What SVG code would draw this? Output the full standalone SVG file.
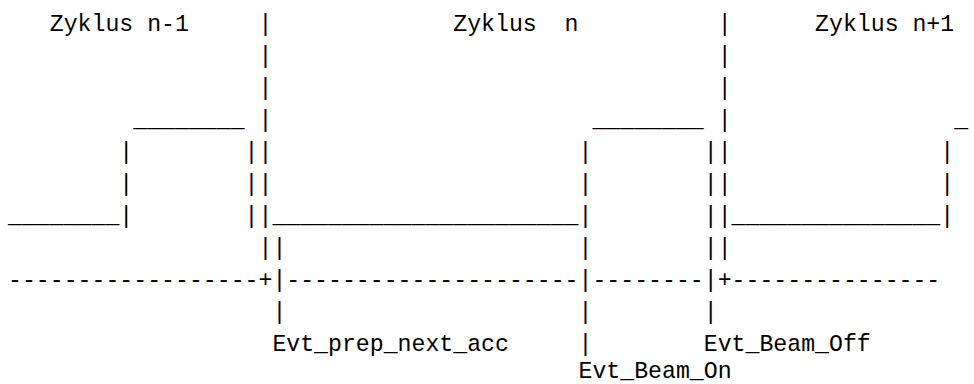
<svg xmlns="http://www.w3.org/2000/svg" width="974" height="384" viewBox="0 0 974 384" xml:space="preserve">
<style>
text { font-family: "Liberation Mono", "DejaVu Sans Mono", monospace; font-size: 23.2px; fill: #000; white-space: pre; }
</style>
<rect width="974" height="384" fill="#fff"/>
<g id="timing-diagram">
<text x="8" y="31">   Zyklus n-1     |             Zyklus  n          |      Zyklus n+1</text>
<text x="8" y="63">                  |                                |</text>
<text x="8" y="95">                  |                                |</text>
<text x="8" y="127">         ________ |                       ________ |                _</text>
<text x="8" y="159">        |        ||                      |        ||               |</text>
<text x="8" y="191">        |        ||                      |        ||               |</text>
<text x="8" y="223">________|        ||______________________|        ||_______________|</text>
<text x="8" y="255">                  ||                     |        ||</text>
<text x="8" y="287">------------------+|---------------------|--------|+---------------</text>
<text x="8" y="319">                   |                     |        |</text>
<text x="8" y="351">                   Evt_prep_next_acc     |        Evt_Beam_Off</text>
<text x="8" y="378">                                         Evt_Beam_On</text>
</g>
</svg>
